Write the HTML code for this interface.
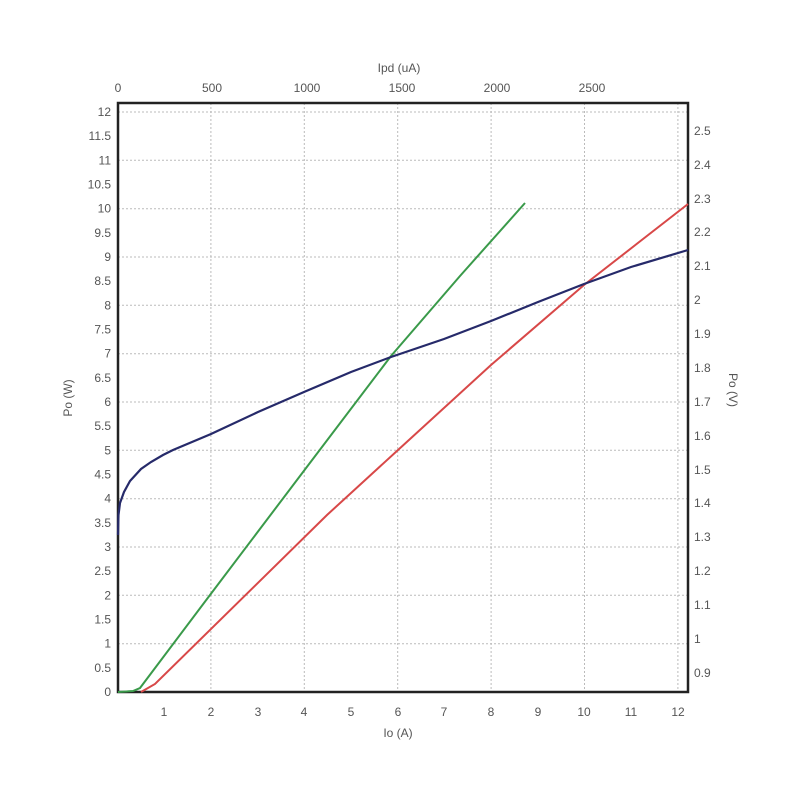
<!DOCTYPE html>
<html><head><meta charset="utf-8"><style>body{margin:0;background:#fff}</style></head>
<body>
<svg width="800" height="800" xmlns="http://www.w3.org/2000/svg" font-family="Liberation Sans, sans-serif" font-size="12" fill="#555">
<g stroke="#bbb" stroke-dasharray="2,2" stroke-width="1">
<line x1="118" x2="688" y1="112" y2="112"/><line x1="118" x2="688" y1="160.3" y2="160.3"/><line x1="118" x2="688" y1="208.7" y2="208.7"/><line x1="118" x2="688" y1="257" y2="257"/><line x1="118" x2="688" y1="305.3" y2="305.3"/><line x1="118" x2="688" y1="353.7" y2="353.7"/><line x1="118" x2="688" y1="402" y2="402"/><line x1="118" x2="688" y1="450.3" y2="450.3"/><line x1="118" x2="688" y1="498.7" y2="498.7"/><line x1="118" x2="688" y1="547" y2="547"/><line x1="118" x2="688" y1="595.3" y2="595.3"/><line x1="118" x2="688" y1="643.7" y2="643.7"/>
<line x1="210.9" x2="210.9" y1="103" y2="692"/><line x1="304.3" x2="304.3" y1="103" y2="692"/><line x1="397.7" x2="397.7" y1="103" y2="692"/><line x1="491.1" x2="491.1" y1="103" y2="692"/><line x1="584.5" x2="584.5" y1="103" y2="692"/><line x1="677.9" x2="677.9" y1="103" y2="692"/>
</g>
<rect x="118" y="103" width="570" height="589" fill="none" stroke="#222" stroke-width="2.5"/>
<polyline fill="none" stroke="#3a9a4a" stroke-width="2" points="118,692 133,691 140,688 210,595 300,476 391,356 460,276 525,203"/>
<polyline fill="none" stroke="#d84848" stroke-width="2" points="141,692 155,684 327,515 398,450 491,365 584,285 688,204"/>
<polyline fill="none" stroke="#262a6a" stroke-width="2.2" points="118,535 118.5,515 120,503 124,492 130,481 141,469 151,462 163,455 173,450 211,434 258,412 304,392 351,372 391,357 444,339 491,321 538,302 584,284 631,267 688,250"/>
<g text-anchor="end">
<text x="111" y="116">12</text><text x="111" y="140.2">11.5</text><text x="111" y="164.3">11</text><text x="111" y="188.5">10.5</text><text x="111" y="212.7">10</text><text x="111" y="236.8">9.5</text><text x="111" y="261">9</text><text x="111" y="285.2">8.5</text><text x="111" y="309.3">8</text><text x="111" y="333.5">7.5</text><text x="111" y="357.7">7</text><text x="111" y="381.8">6.5</text><text x="111" y="406">6</text><text x="111" y="430.2">5.5</text><text x="111" y="454.3">5</text><text x="111" y="478.5">4.5</text><text x="111" y="502.7">4</text><text x="111" y="526.8">3.5</text><text x="111" y="551">3</text><text x="111" y="575.2">2.5</text><text x="111" y="599.3">2</text><text x="111" y="623.5">1.5</text><text x="111" y="647.7">1</text><text x="111" y="671.8">0.5</text><text x="111" y="696">0</text>
</g>
<g text-anchor="start">
<text x="694" y="135">2.5</text><text x="694" y="169">2.4</text><text x="694" y="203">2.3</text><text x="694" y="236">2.2</text><text x="694" y="270">2.1</text><text x="694" y="304">2</text><text x="694" y="338">1.9</text><text x="694" y="372">1.8</text><text x="694" y="406">1.7</text><text x="694" y="440">1.6</text><text x="694" y="474">1.5</text><text x="694" y="507">1.4</text><text x="694" y="541">1.3</text><text x="694" y="575">1.2</text><text x="694" y="609">1.1</text><text x="694" y="643">1</text><text x="694" y="677">0.9</text>
</g>
<g text-anchor="middle">
<text x="164" y="716">1</text><text x="211" y="716">2</text><text x="258" y="716">3</text><text x="304" y="716">4</text><text x="351" y="716">5</text><text x="398" y="716">6</text><text x="444" y="716">7</text><text x="491" y="716">8</text><text x="538" y="716">9</text><text x="584" y="716">10</text><text x="631" y="716">11</text><text x="678" y="716">12</text>
<text x="118" y="92">0</text><text x="212" y="92">500</text><text x="307" y="92">1000</text><text x="402" y="92">1500</text><text x="497" y="92">2000</text><text x="592" y="92">2500</text>
<text x="399" y="72">Ipd (uA)</text><text x="398" y="737">Io (A)</text>
<text transform="translate(72,398) rotate(-90)">Po (W)</text>
<text transform="translate(729,390) rotate(90)">Po (V)</text>
</g>
</svg>
</body></html>
